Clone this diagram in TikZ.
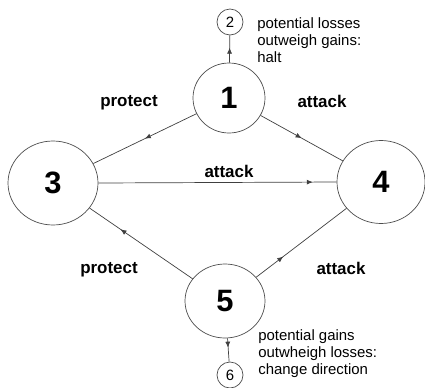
\documentclass[tikz,border=0pt]{standalone}
\usepackage{fontspec}
\setmainfont{Liberation Sans}
\usetikzlibrary{arrows.meta,shapes.geometric,decorations.markings}

\tikzset{
  tipat/.style={postaction={decorate},
    decoration={markings,mark=at position #1 with {\arrow{Latex[length=6bp,width=5bp]}}}},
  state/.style={draw=black!70,ellipse,inner sep=0pt,font=\bfseries\fontsize{31}{31}\selectfont},
  endstate/.style={draw=black!70,circle,minimum size=26bp,inner sep=0pt,font=\fontsize{15}{15}\selectfont},
  lbl/.style={font=\bfseries\fontsize{17}{17}\selectfont},
  note/.style={anchor=north west,align=left,inner sep=0pt,font=\fontsize{15}{17}\selectfont},
}

\begin{document}
\begin{tikzpicture}[x=1bp, y=-1bp, line width=0.7bp]
      \useasboundingbox (0,0) rectangle (425,388);
      \node[state,minimum width=72bp,minimum height=70bp] (one) at (229,98) {1};
      \node[endstate] (two) at (230,22) {2};
      \node[state,minimum width=90bp,minimum height=84bp] (three) at (53,183) {3};
      \node[state,minimum width=88bp,minimum height=83bp] (four) at (381,182) {4};
      \node[state,minimum width=80bp,minimum height=74bp] (five) at (225,301) {5};
      \node[endstate] (six) at (230,375) {6};
      \draw[black!75,tipat=0.55] (one) -- (two);
      \draw[black!75,tipat=0.5] (one) -- (three);
      \draw[black!75,tipat=0.5] (one) -- (four);
      \draw[black!75,tipat=0.9] (three.east) -- (four.west);
      \draw[black!75,tipat=0.7] (five) -- (three);
      \draw[black!75,tipat=0.3] (five) -- (four);
      \draw[black!75,tipat=0.4] (five) -- (six);
      \node[lbl] (protectup) at (129,103) {protect};
      \node[lbl] (attackup) at (322,101) {attack};
      \node[lbl] (attackmid) at (229,171) {attack};
      \node[lbl] (protectdown) at (109,270) {protect};
      \node[lbl] (attackdown) at (341,268) {attack};
      \node[note] (halt) at (257,17) {potential losses\\outweigh gains:\\halt};
      \node[note] (turn) at (258,329) {potential gains\\outwheigh losses:\\change direction};
   \end{tikzpicture}
\end{document}
